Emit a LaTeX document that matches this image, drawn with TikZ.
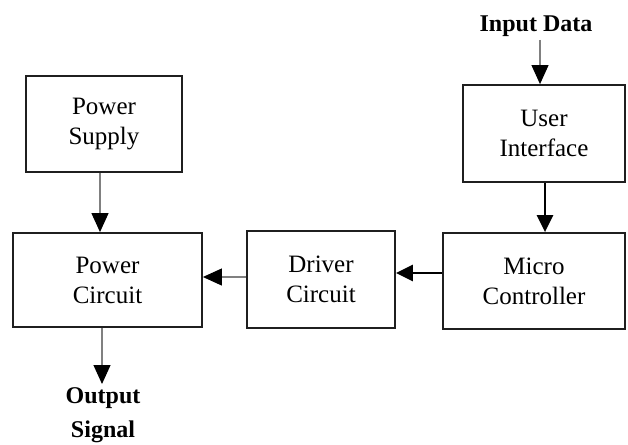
\documentclass[tikz,border=0pt]{standalone}
\usepackage{fontspec}
\setmainfont{Liberation Serif}
\usetikzlibrary{arrows.meta}
\begin{document}
\begin{tikzpicture}[x=1pt,y=-1pt,
  block/.style={draw=black!88,line width=1.8pt,fill=white,inner sep=0pt,
    align=center,font=\fontsize{25}{30}\selectfont},
  label/.style={align=center,font=\fontsize{24}{34}\selectfont\bfseries},
  thinarrow/.style={draw=black!50,line width=1.1pt,
    -{Triangle[length=19pt,width=17pt,black]}},
  thickarrow/.style={draw=black,line width=2.4pt,
    -{Triangle[length=17pt,width=16pt,black]}}]
\useasboundingbox (0,0) rectangle (628,444);

% blocks
\node[block,minimum width=156pt,minimum height=96pt] (ps) at (104,124) {Power\\Supply};
\node[block,minimum width=189pt,minimum height=94pt] (pc) at (107.5,280) {Power\\Circuit};
\node[block,minimum width=148pt,minimum height=97pt] (dc) at (321,279.5) {Driver\\Circuit};
\node[block,minimum width=182pt,minimum height=96pt] (mc) at (534,281) {Micro\\Controller};
\node[block,minimum width=162pt,minimum height=97pt] (ui) at (544,133.5) {User\\Interface};

% external signals
\node[label,anchor=south] (in) at (536,40) {Input Data};
\node[label,anchor=north] (out) at (103,384) {Output\\Signal};

% connectors
\draw[thinarrow] ([xshift=-4pt]ps.south) -- ([xshift=-4pt]ps.south |- pc.north);
\draw[thinarrow] ([xshift=4pt]in.south) -- ([xshift=4pt]in.south |- ui.north);
\draw[thickarrow] ([xshift=1pt]ui.south) -- ([xshift=1pt]ui.south |- mc.north);
\draw[thickarrow] ([yshift=8pt]mc.west) -- ([yshift=8pt]mc.west -| dc.east);
\draw[thinarrow] ([yshift=2.5pt]dc.west) -- ([yshift=2.5pt]dc.west -| pc.east);
\draw[thinarrow] ([xshift=-5.5pt]pc.south) -- ([xshift=-5.5pt]pc.south |- out.north);
\end{tikzpicture}
\end{document}
